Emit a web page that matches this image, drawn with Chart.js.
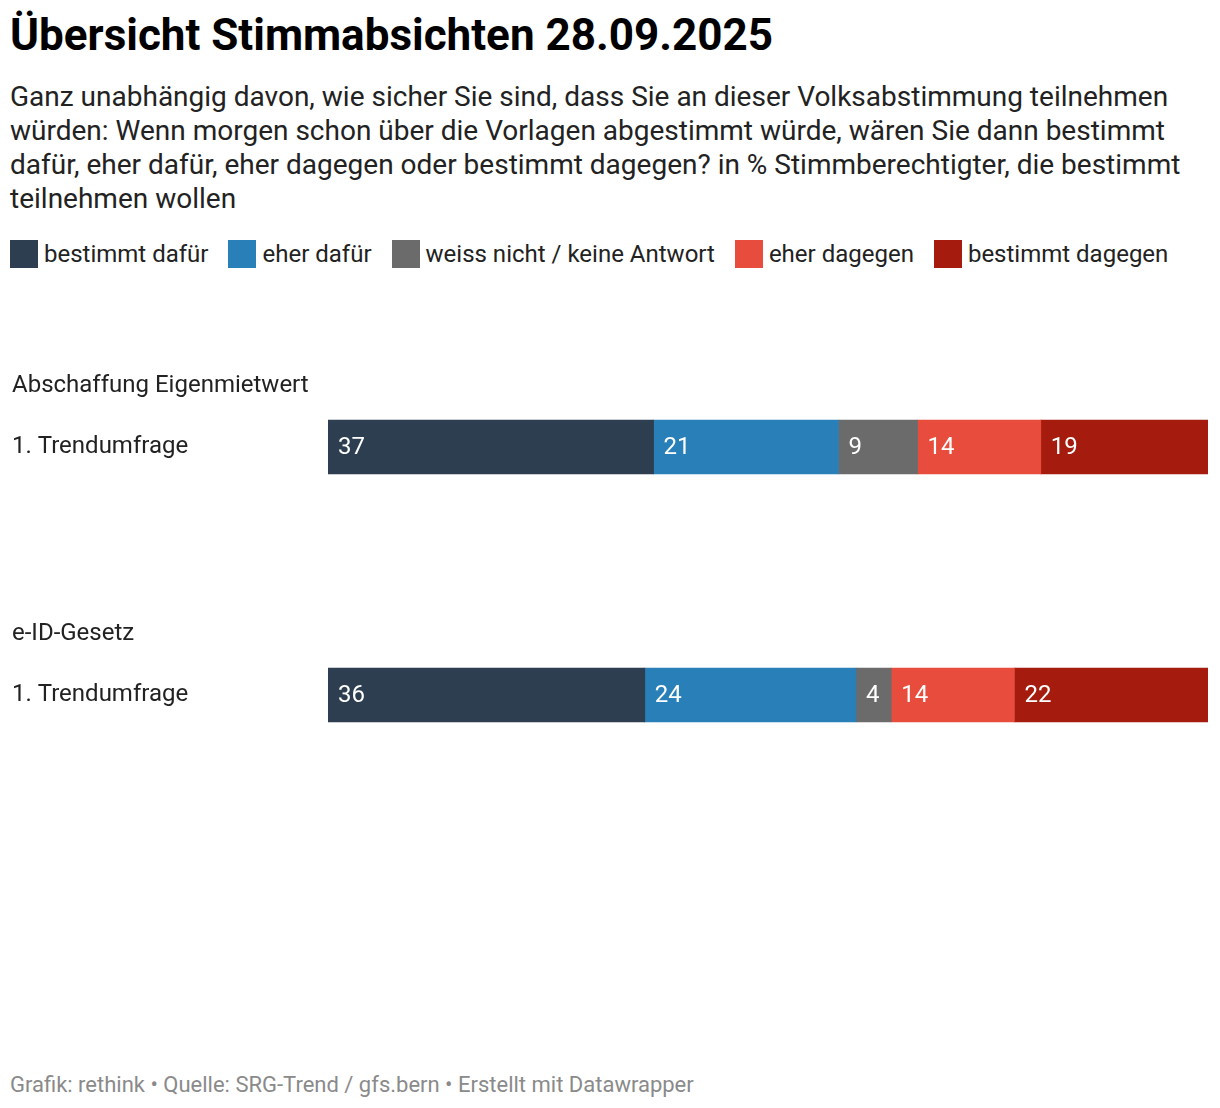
<!DOCTYPE html>
<html>
<head>
<meta charset="utf-8">
<script src="https://cdn.jsdelivr.net/npm/chart.js@4"></script>
<style>
  html, body { margin: 0; padding: 0; background: #fff; }
  body { width: 1220px; height: 1108px; position: relative; font-family: Roboto, "Noto Sans", sans-serif; overflow: hidden; }
  #title { position: absolute; left: 10px; top: 10px; font-size: 44px; font-weight: 700; color: #000; line-height: 50px; white-space: nowrap; }
  #subtitle { position: absolute; left: 10px; top: 80px; width: 1200px; font-size: 28px; line-height: 34px; color: #222; }
  #legend { position: absolute; left: 10px; top: 240px; display: flex; font-size: 24px; color: #222; line-height: 28px; }
  .item { display: flex; align-items: center; margin-right: 20px; }
  .sw { width: 28px; height: 28px; margin-right: 6px; }
  #wrap { position: absolute; left: 0; top: 311px; width: 1220px; height: 520px; }
  #footer { position: absolute; left: 10px; top: 1072px; font-size: 22px; color: #8a8a8a; line-height: 26px; white-space: nowrap; }
</style>
</head>
<body>
<div id="title">Übersicht Stimmabsichten 28.09.2025</div>
<div id="subtitle">Ganz unabhängig davon, wie sicher Sie sind, dass Sie an dieser Volksabstimmung teilnehmen würden: Wenn morgen schon über die Vorlagen abgestimmt würde, wären Sie dann bestimmt dafür, eher dafür, eher dagegen oder bestimmt dagegen? in % Stimmberechtigter, die bestimmt teilnehmen wollen</div>
<div id="legend"></div>
<div id="wrap"><canvas id="c" width="1220" height="520"></canvas></div>
<div id="footer">Grafik: rethink • Quelle: SRG-Trend / gfs.bern • Erstellt mit Datawrapper</div>
<script>
const groups = ["Abschaffung Eigenmietwert", "e-ID-Gesetz"];
const rows = ["1. Trendumfrage", "1. Trendumfrage"];
const seriesNames = ["bestimmt dafür", "eher dafür", "weiss nicht / keine Antwort", "eher dagegen", "bestimmt dagegen"];
const bestimmtDafuer = [37, 36];
const eherDafuer = [21, 24];
const weissNicht = [9, 4];
const eherDagegen = [14, 14];
const bestimmtDagegen = [19, 22];
const colors = ["#2c3e50", "#2980b9", "#6b6b6b", "#e74c3c", "#a51c0e"];

const seriesValues = [bestimmtDafuer, eherDafuer, weissNicht, eherDagegen, bestimmtDagegen];

const legend = document.getElementById('legend');
seriesNames.forEach((n, i) => {
  const it = document.createElement('div'); it.className = 'item';
  const sw = document.createElement('div'); sw.className = 'sw'; sw.style.background = colors[i];
  const t = document.createElement('span'); t.textContent = n;
  it.appendChild(sw); it.appendChild(t); legend.appendChild(it);
});

const FONT = 'Roboto, "Noto Sans", sans-serif';

const labelPlugin = {
  id: 'labels',
  afterDatasetsDraw(chart) {
    const ctx = chart.ctx;
    ctx.save();
    ctx.font = '24px ' + FONT;
    ctx.textBaseline = 'middle';
    ctx.textAlign = 'left';
    ctx.fillStyle = '#fff';
    chart.data.datasets.forEach((ds, di) => {
      const meta = chart.getDatasetMeta(di);
      meta.data.forEach((bar, i) => {
        const x0 = Math.min(bar.x, bar.base);
        ctx.fillText(String(ds.data[i]), x0 + 10, bar.y + 1);
      });
    });
    // group labels above each row
    const meta0 = chart.getDatasetMeta(0);
    ctx.fillStyle = '#222';
    meta0.data.forEach((bar, i) => {
      ctx.fillText(groups[i], 12, bar.y - 61);
    });
    ctx.restore();
  }
};

new Chart(document.getElementById('c'), {
  type: 'bar',
  data: {
    labels: groups,
    datasets: seriesNames.map((n, i) => ({
      label: n,
      data: seriesValues[i],
      backgroundColor: colors[i],
      borderWidth: 0,
      barThickness: 54
    }))
  },
  options: {
    indexAxis: 'y',
    responsive: false,
    animation: false,
    devicePixelRatio: 1,
    layout: { padding: { left: 12, right: 12, top: 0, bottom: 0 } },
    plugins: { legend: { display: false }, tooltip: { enabled: false } },
    scales: {
      x: { stacked: true, min: 0, max: 100, display: false },
      y: {
        stacked: true,
        grid: { display: false },
        border: { display: false },
        afterFit(scale) { scale.width = 316; },
        ticks: {
          crossAlign: 'far',
          padding: 0,
          color: '#222',
          font: { family: FONT, size: 24, lineHeight: 1 },
          callback: (v, i) => rows[i]
        }
      }
    }
  },
  plugins: [labelPlugin]
});
</script>
</body>
</html>
